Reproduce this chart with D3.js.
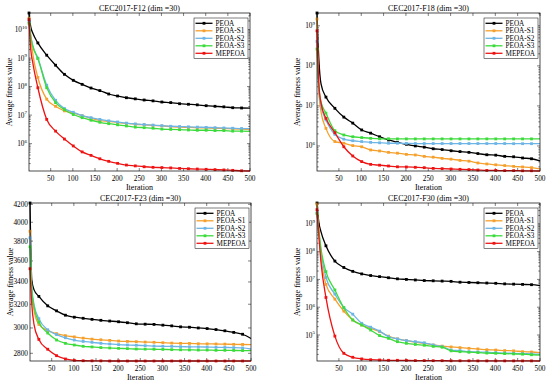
<!DOCTYPE html>
<html>
<head>
<meta charset="utf-8">
<script src="https://cdn.jsdelivr.net/npm/d3@7"></script>
<style>
  body { margin: 0; background: #fff; }
  svg { display: block; font-family: "Liberation Serif", "Times New Roman", serif; }
</style>
</head>
<body>
<div id="chart"></div>
<script>
var iterations = [1, 5, 10, 21, 41, 61, 81, 101, 121, 141, 161, 181, 201, 221, 241, 261, 281, 301, 321, 341, 361, 381, 401, 421, 441, 461, 481, 500];
var seriesNames = ["PEOA", "PEOA-S1", "PEOA-S2", "PEOA-S3", "MEPEOA"];
var seriesColors = ["#000000", "#F5A02C", "#6DB5E6", "#3CDB3C", "#EE1313"];
var xTicks = [50, 100, 150, 200, 250, 300, 350, 400, 450, 500];

// CEC2017-F12
var f12Ticks = [1e6, 1e7, 1e8, 1e9, 1e10];
var f12Peoa = [3.8e10, 1.23e10, 7.24e9, 3.39e9, 1.26e9, 5.62e8, 2.69e8, 1.66e8, 1.2e8, 8.91e7, 7.24e7, 5.5e7, 4.68e7, 4.07e7, 3.72e7, 3.39e7, 3.16e7, 2.88e7, 2.75e7, 2.51e7, 2.4e7, 2.29e7, 2.14e7, 2.04e7, 1.95e7, 1.82e7, 1.78e7, 1.76e7];
var f12S1 = [2.51e10, 5.62e9, 1.26e9, 2.09e8, 3.63e7, 2.04e7, 1.41e7, 1.17e7, 9.55e6, 7.76e6, 6.46e6, 6.03e6, 5.5e6, 5.13e6, 4.79e6, 4.57e6, 4.37e6, 4.17e6, 3.98e6, 3.8e6, 3.72e6, 3.63e6, 3.55e6, 3.47e6, 3.39e6, 3.31e6, 3.24e6, 3.16e6];
var f12S2 = [1.91e10, 6.03e9, 2.63e9, 1.0e9, 1.12e8, 3.31e7, 1.7e7, 1.26e7, 9.55e6, 8.13e6, 7.08e6, 6.31e6, 5.75e6, 5.25e6, 4.9e6, 4.68e6, 4.47e6, 4.27e6, 4.07e6, 3.98e6, 3.89e6, 3.8e6, 3.72e6, 3.63e6, 3.55e6, 3.47e6, 3.39e6, 3.39e6];
var f12S3 = [1.66e10, 5.5e9, 2.45e9, 9.55e8, 9.12e7, 2.75e7, 1.55e7, 1.05e7, 8.13e6, 6.61e6, 5.62e6, 5.01e6, 4.57e6, 4.17e6, 3.8e6, 3.63e6, 3.47e6, 3.24e6, 3.16e6, 3.09e6, 3.02e6, 2.95e6, 2.95e6, 2.88e6, 2.88e6, 2.75e6, 2.75e6, 2.69e6];
var f12Mepeoa = [2.24e10, 2.0e9, 6.31e8, 9.12e7, 7.08e6, 2.75e6, 1.45e6, 8.32e5, 5.13e5, 3.89e5, 2.95e5, 2.4e5, 2.04e5, 1.78e5, 1.66e5, 1.55e5, 1.48e5, 1.45e5, 1.41e5, 1.35e5, 1.32e5, 1.29e5, 1.26e5, 1.23e5, 1.2e5, 1.16e5, 1.12e5, 1.1e5];

// CEC2017-F18
var f18Ticks = [1e6, 1e7, 1e8, 1e9];
var f18Peoa = [2.09e9, 1.58e8, 3.55e7, 1.66e7, 8.71e6, 5.25e6, 3.72e6, 2.51e6, 2.09e6, 1.7e6, 1.41e6, 1.23e6, 1.1e6, 1.0e6, 9.33e5, 8.51e5, 8.13e5, 7.59e5, 7.24e5, 6.92e5, 6.46e5, 6.03e5, 5.89e5, 5.5e5, 5.37e5, 5.01e5, 4.79e5, 4.27e5];
var f18S1 = [1.48e9, 2.51e7, 7.08e6, 2.75e6, 1.29e6, 1.17e6, 1.02e6, 9.55e5, 7.94e5, 7.5e5, 6.92e5, 6.61e5, 6.17e5, 5.96e5, 5.5e5, 5.25e5, 4.9e5, 4.68e5, 4.37e5, 4.17e5, 3.76e5, 3.55e5, 3.39e5, 3.24e5, 3.09e5, 2.99e5, 2.88e5, 2.66e5];
var f18S2 = [4.07e8, 2.51e7, 1.0e7, 4.47e6, 1.95e6, 1.48e6, 1.35e6, 1.29e6, 1.23e6, 1.2e6, 1.17e6, 1.17e6, 1.16e6, 1.15e6, 1.15e6, 1.15e6, 1.15e6, 1.15e6, 1.15e6, 1.15e6, 1.15e6, 1.15e6, 1.15e6, 1.15e6, 1.14e6, 1.14e6, 1.14e6, 1.14e6];
var f18S3 = [2.63e8, 3.16e7, 1.26e7, 6.61e6, 2.4e6, 1.88e6, 1.7e6, 1.62e6, 1.55e6, 1.51e6, 1.51e6, 1.5e6, 1.5e6, 1.5e6, 1.5e6, 1.5e6, 1.5e6, 1.5e6, 1.5e6, 1.5e6, 1.5e6, 1.5e6, 1.5e6, 1.5e6, 1.5e6, 1.5e6, 1.5e6, 1.5e6];
var f18Mepeoa = [7.5e8, 3.72e7, 1.17e7, 4.9e6, 2.14e6, 9.55e5, 5.62e5, 4.07e5, 3.47e5, 3.31e5, 3.16e5, 3.02e5, 2.99e5, 2.93e5, 2.87e5, 2.75e5, 2.71e5, 2.66e5, 2.61e5, 2.57e5, 2.51e5, 2.45e5, 2.45e5, 2.42e5, 2.42e5, 2.4e5, 2.4e5, 2.37e5];

// CEC2017-F23
var f23Ticks = [2800, 3000, 3200, 3400, 3600, 3800, 4000, 4200];
var f23Peoa = [4215, 3420, 3330, 3269, 3186, 3143, 3106, 3089, 3080, 3071, 3063, 3057, 3051, 3043, 3034, 3031, 3029, 3023, 3017, 3009, 3006, 3000, 2995, 2987, 2977, 2964, 2949, 2915];
var f23S1 = [3903, 3300, 3150, 3029, 2979, 2954, 2938, 2928, 2918, 2910, 2905, 2900, 2895, 2892, 2890, 2887, 2885, 2882, 2879, 2877, 2876, 2874, 2873, 2872, 2871, 2869, 2868, 2867];
var f23S2 = [3834, 3350, 3200, 3077, 2985, 2946, 2921, 2903, 2892, 2885, 2877, 2872, 2867, 2864, 2862, 2859, 2856, 2854, 2853, 2851, 2850, 2849, 2848, 2846, 2845, 2844, 2841, 2833];
var f23S3 = [3741, 3330, 3180, 3049, 2959, 2903, 2877, 2864, 2854, 2849, 2844, 2841, 2838, 2836, 2833, 2832, 2831, 2830, 2828, 2827, 2826, 2825, 2825, 2823, 2823, 2822, 2821, 2821];
var f23Mepeoa = [3525, 3200, 3030, 2908, 2831, 2782, 2757, 2747, 2744, 2743, 2743, 2742, 2742, 2742, 2742, 2742, 2742, 2742, 2742, 2742, 2742, 2742, 2742, 2742, 2742, 2742, 2742, 2742];

// CEC2017-F30
var f30Ticks = [1e5, 1e6, 1e7, 1e8, 1e9];
var f30Peoa = [5.62e9, 1.17e9, 5.13e8, 1.62e8, 4.57e7, 2.69e7, 1.95e7, 1.58e7, 1.38e7, 1.26e7, 1.15e7, 1.05e7, 1.0e7, 9.55e6, 9.12e6, 8.91e6, 8.71e6, 8.51e6, 7.94e6, 7.76e6, 7.59e6, 7.41e6, 7.24e6, 6.92e6, 6.76e6, 6.61e6, 6.46e6, 6.03e6];
var f30S1 = [5.13e9, 5.01e8, 6.31e7, 6.61e6, 1.95e6, 7.24e5, 3.47e5, 2.29e5, 1.74e5, 1.32e5, 9.12e4, 7.24e4, 6.31e4, 5.5e4, 5.01e4, 4.37e4, 3.98e4, 3.72e4, 3.51e4, 3.31e4, 3.16e4, 2.95e4, 2.88e4, 2.75e4, 2.69e4, 2.51e4, 2.45e4, 2.34e4];
var f30S2 = [2.51e9, 5.01e8, 1.0e8, 1.17e7, 2.95e6, 9.77e5, 5.62e5, 2.63e5, 1.91e5, 1.38e5, 8.71e4, 7.24e4, 6.31e4, 5.75e4, 5.25e4, 4.37e4, 3.8e4, 2.88e4, 2.75e4, 2.51e4, 2.45e4, 2.4e4, 2.34e4, 2.24e4, 2.19e4, 2.14e4, 2.09e4, 2.04e4];
var f30S3 = [2.34e9, 6.31e8, 1.26e8, 1.91e7, 4.17e6, 9.55e5, 3.47e5, 2.29e5, 1.51e5, 9.55e4, 7.59e4, 5.75e4, 5.01e4, 4.57e4, 4.27e4, 3.89e4, 3.63e4, 2.69e4, 2.51e4, 2.4e4, 2.34e4, 2.24e4, 2.19e4, 2.14e4, 2.09e4, 2.04e4, 1.95e4, 1.91e4];
var f30Mepeoa = [3.24e9, 3.98e8, 3.98e7, 2.24e6, 9.12e4, 2.19e4, 1.58e4, 1.38e4, 1.29e4, 1.26e4, 1.23e4, 1.23e4, 1.22e4, 1.2e4, 1.2e4, 1.19e4, 1.19e4, 1.18e4, 1.18e4, 1.18e4, 1.17e4, 1.17e4, 1.17e4, 1.17e4, 1.17e4, 1.17e4, 1.17e4, 1.16e4];

var width = 550, height = 383;

var panels = [
  {title: "CEC2017-F12 (dim =30)", series: [f12Peoa, f12S1, f12S2, f12S3, f12Mepeoa], ticks: f12Ticks, power: true, x0: 29, x1: 250, y0: 13, y1: 171},
  {title: "CEC2017-F18 (dim =30)", series: [f18Peoa, f18S1, f18S2, f18S3, f18Mepeoa], ticks: f18Ticks, power: true, x0: 317, x1: 540, y0: 13, y1: 171},
  {title: "CEC2017-F23 (dim =30)", series: [f23Peoa, f23S1, f23S2, f23S3, f23Mepeoa], ticks: f23Ticks, power: false, x0: 30, x1: 251, y0: 203, y1: 361},
  {title: "CEC2017-F30 (dim =30)", series: [f30Peoa, f30S1, f30S2, f30S3, f30Mepeoa], ticks: f30Ticks, power: true, x0: 317, x1: 540, y0: 203, y1: 361}
];

var svg = d3.select("#chart").append("svg")
  .attr("width", width)
  .attr("height", height);

panels.forEach(function(p) { drawPanel(p); });

function drawPanel(p) {
  var g = svg.append("g");
  var x = d3.scaleLinear().domain([1, 500]).range([p.x0, p.x1]);
  // axis tight, like matlab
  var y = d3.scaleLog().domain(d3.extent(d3.merge(p.series))).range([p.y1, p.y0]);

  // minor ticks only on the power-of-ten axes
  var minor = [];
  if (p.power) {
    minor = y.ticks().filter(function(v) {
      return Math.abs(Math.log10(v) - Math.round(Math.log10(v))) > 1e-6;
    });
  }

  var tickG = g.append("g").attr("stroke", "#000").attr("stroke-width", 0.5);
  minor.forEach(function(v) {
    tickG.append("line").attr("x1", p.x0).attr("x2", p.x0 + 1.7).attr("y1", y(v)).attr("y2", y(v));
    tickG.append("line").attr("x1", p.x1).attr("x2", p.x1 - 1.7).attr("y1", y(v)).attr("y2", y(v));
  });
  p.ticks.forEach(function(v) {
    tickG.append("line").attr("x1", p.x0).attr("x2", p.x0 + 3).attr("y1", y(v)).attr("y2", y(v));
    tickG.append("line").attr("x1", p.x1).attr("x2", p.x1 - 3).attr("y1", y(v)).attr("y2", y(v));
  });
  xTicks.forEach(function(v) {
    tickG.append("line").attr("x1", x(v)).attr("x2", x(v)).attr("y1", p.y1).attr("y2", p.y1 - 3);
    tickG.append("line").attr("x1", x(v)).attr("x2", x(v)).attr("y1", p.y0).attr("y2", p.y0 + 3);
  });

  // x tick labels
  g.append("g").selectAll("text")
    .data(xTicks)
    .enter().append("text")
      .attr("x", function(d) { return x(d); })
      .attr("y", p.y1 + 9.5)
      .attr("text-anchor", "middle")
      .style("font-size", "7.3px")
      .text(function(d) { return d; });

  // y tick labels
  var yl = g.append("g").selectAll("text")
    .data(p.ticks)
    .enter().append("text")
      .attr("x", p.x0 - 2)
      .attr("y", function(d) { return y(d) + 2.5; })
      .attr("text-anchor", "end")
      .style("font-size", "7.3px");
  if (p.power) {
    yl.append("tspan").text("10");
    yl.append("tspan")
      .attr("dy", -3.2)
      .style("font-size", "5px")
      .text(function(d) { return Math.round(Math.log10(d)); });
  } else {
    yl.text(function(d) { return d; });
  }

  // series
  var line = d3.line()
    .x(function(d) { return x(d[0]); })
    .y(function(d) { return y(d[1]); })
    .curve(d3.curveMonotoneX);

  p.series.forEach(function(values, k) {
    var pts = iterations.map(function(it, i) { return [it, values[i]]; });
    g.append("path")
      .attr("d", line(pts))
      .attr("fill", "none")
      .attr("stroke", seriesColors[k])
      .attr("stroke-width", 1.3);
    g.append("g").selectAll("rect")
      .data(pts.filter(function(d) { return (d[0] - 1) % 20 === 0; }))
      .enter().append("rect")
        .attr("x", function(d) { return x(d[0]) - 1.4; })
        .attr("y", function(d) { return y(d[1]) - 1.4; })
        .attr("width", 2.8)
        .attr("height", 2.8)
        .attr("fill", seriesColors[k]);
  });

  // box
  g.append("rect")
    .attr("x", p.x0).attr("y", p.y0)
    .attr("width", p.x1 - p.x0).attr("height", p.y1 - p.y0)
    .attr("fill", "none")
    .attr("stroke", "#000")
    .attr("stroke-width", 0.7);

  // title and labels
  g.append("text")
    .attr("x", (p.x0 + p.x1) / 2)
    .attr("y", p.y0 - 2.5)
    .attr("text-anchor", "middle")
    .style("font-size", "8px")
    .text(p.title);

  g.append("text")
    .attr("x", (p.x0 + p.x1) / 2)
    .attr("y", p.y1 + 18.5)
    .attr("text-anchor", "middle")
    .style("font-size", "8px")
    .text("Iteration");

  g.append("text")
    .attr("transform", "translate(" + (p.x0 - 17.5) + "," + ((p.y0 + p.y1) / 2) + ") rotate(-90)")
    .attr("text-anchor", "middle")
    .style("font-size", "8px")
    .text("Average fitness value");

  drawLegend(g, p);
}

function drawLegend(g, p) {
  var lg = g.append("g")
    .attr("transform", "translate(" + (p.x1 - 56) + "," + (p.y0 + 5) + ")");
  lg.append("rect")
    .attr("width", 54)
    .attr("height", 40.5)
    .attr("fill", "#fff")
    .attr("stroke", "#000")
    .attr("stroke-width", 0.5);
  seriesNames.forEach(function(name, i) {
    var yy = 5.3 + i * 7.5;
    lg.append("line")
      .attr("x1", 1.5).attr("x2", 18.5)
      .attr("y1", yy).attr("y2", yy)
      .attr("stroke", seriesColors[i])
      .attr("stroke-width", 1.3);
    lg.append("rect")
      .attr("x", 10 - 1.4).attr("y", yy - 1.4)
      .attr("width", 2.8).attr("height", 2.8)
      .attr("fill", seriesColors[i]);
    lg.append("text")
      .attr("x", 21.5)
      .attr("y", yy + 2.4)
      .style("font-size", "7.2px")
      .text(name);
  });
}
</script>
</body>
</html>
